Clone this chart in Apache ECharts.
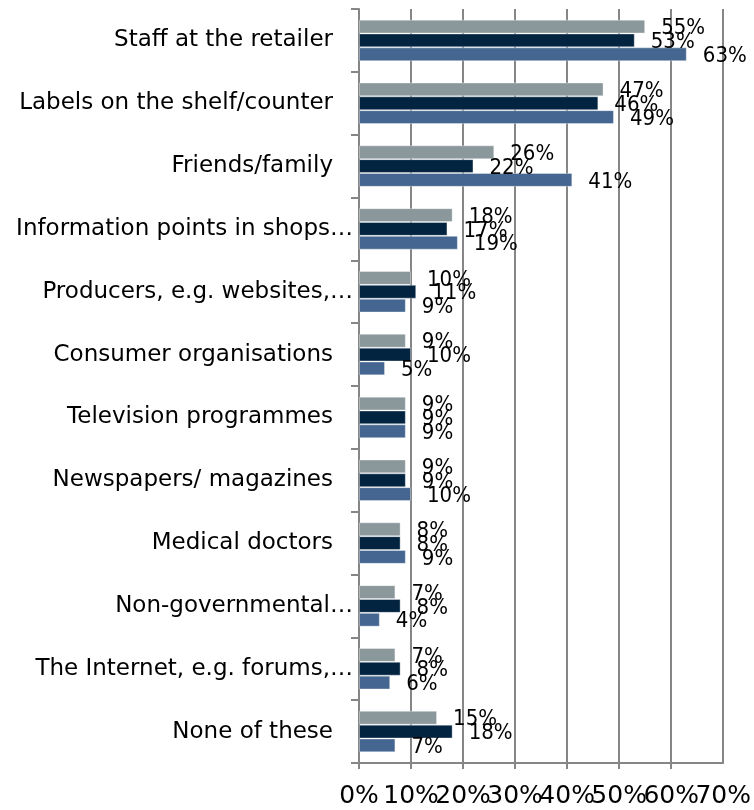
<!DOCTYPE html>
<html>
<head>
<meta charset="utf-8">
<script src="https://cdn.jsdelivr.net/npm/echarts@6/dist/echarts.min.js"></script>
<style>
  html, body { margin: 0; padding: 0; background: #ffffff; }
  #chart { width: 754px; height: 810px; }
</style>
</head>
<body>
<div id="chart"></div>
<script>
// Information sources, share of respondents per group (%)
const categories = [
  'Staff at the retailer',
  'Labels on the shelf/counter',
  'Friends/family',
  'Information points in shops…',
  'Producers, e.g. websites,…',
  'Consumer organisations',
  'Television programmes',
  'Newspapers/ magazines',
  'Medical doctors',
  'Non-governmental…',
  'The Internet, e.g. forums,…',
  'None of these'
];
const seriesA = [55, 47, 26, 18, 10, 9, 9, 9, 8, 7, 7, 15];
const seriesB = [53, 46, 22, 17, 11, 10, 9, 9, 8, 8, 8, 18];
const seriesC = [63, 49, 41, 19, 9, 5, 9, 10, 9, 4, 6, 7];
const xTicks = [0, 10, 20, 30, 40, 50, 60, 70];
const xMin = xTicks[0];
const xMax = xTicks[xTicks.length - 1];

const colors = ['#8a979b', '#022440', '#456690'];
const FONT = 'DejaVu Sans, Verdana, sans-serif';
const FONT_NARROW = '"DejaVu Sans Condensed", "DejaVu Sans", sans-serif';

const tickLabelStyle = {
  color: '#000',
  fontFamily: FONT,
  fontSize: 25,
  margin: 21
};

function barSeries(data, color) {
  return {
    type: 'bar',
    data: data,
    barGap: '0%',
    barCategoryGap: '34%',
    itemStyle: { color: color, borderColor: 'rgba(255,255,255,0.35)', borderWidth: 1 },
    label: {
      show: true,
      position: 'right',
      distance: 16,
      offset: [0, 2],
      formatter: '{c}%',
      color: '#000',
      fontFamily: FONT_NARROW,
      fontSize: 22
    },
    emphasis: { disabled: true },
    animation: false
  };
}

const chart = echarts.init(document.getElementById('chart'), null, { renderer: 'canvas' });
chart.setOption({
  animation: false,
  grid: { left: 359, right: 29, top: 9, bottom: 47, containLabel: false },
  xAxis: [
    {
      type: 'value',
      position: 'bottom',
      min: xMin,
      max: xMax,
      interval: 10,
      axisLine: { show: true, lineStyle: { color: '#868686', width: 2 } },
      axisTick: { show: true, length: 6, lineStyle: { color: '#868686', width: 2 } },
      splitLine: { show: true, lineStyle: { color: '#868686', width: 2 } },
      axisLabel: Object.assign({
        showMinLabel: true,
        showMaxLabel: false,
        formatter: '{value}%'
      }, tickLabelStyle)
    },
    {
      // carries only the last tick label, which would otherwise crowd out its neighbour
      type: 'value',
      position: 'bottom',
      min: xMin,
      max: xMax,
      interval: 10,
      axisLine: { show: false },
      axisTick: { show: false },
      splitLine: { show: false },
      axisLabel: Object.assign({
        showMaxLabel: true,
        formatter: function (v) { return v === xMax ? v + '%' : ''; }
      }, tickLabelStyle)
    }
  ],
  yAxis: {
    type: 'category',
    data: categories,
    inverse: true,
    axisLine: { show: true, lineStyle: { color: '#868686', width: 2 } },
    axisTick: { show: true, length: 8, lineStyle: { color: '#868686', width: 2 } },
    axisLabel: {
      color: '#000',
      fontFamily: FONT,
      fontSize: 23,
      margin: 6,
      // shortened names run closer to the axis; full names keep a trailing gap
      formatter: function (v) {
        return v.endsWith('…') ? '{t|' + v + '}' : '{t|' + v + '}{s| }';
      },
      rich: {
        t: { fontFamily: FONT, fontSize: 23, color: '#000' },
        s: { width: 20, fontSize: 23 }
      }
    }
  },
  series: [
    barSeries(seriesA, colors[0]),
    barSeries(seriesB, colors[1]),
    barSeries(seriesC, colors[2])
  ]
});
</script>
</body>
</html>
